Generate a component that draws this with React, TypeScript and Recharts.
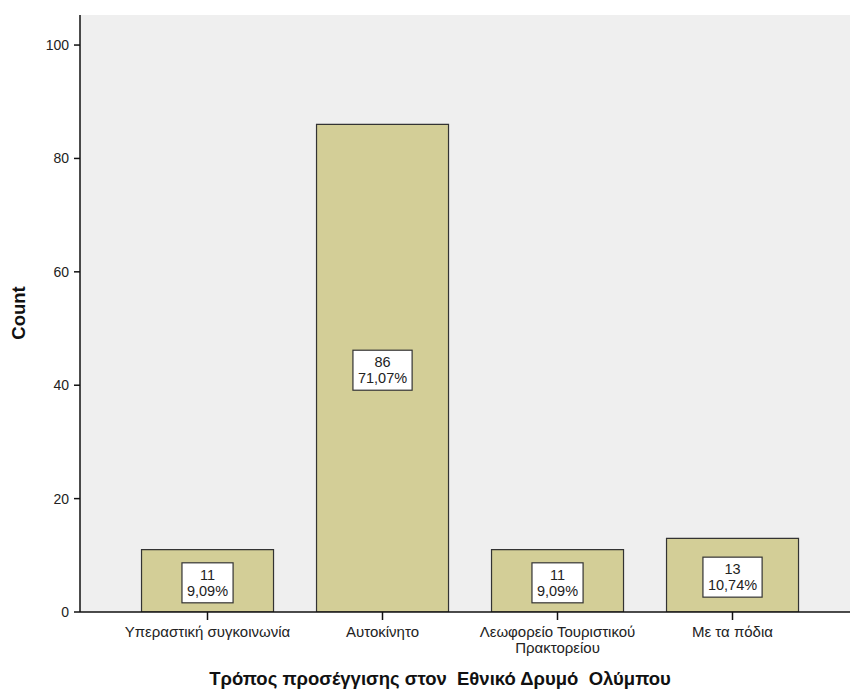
import {
  BarChart,
  Bar,
  XAxis,
  YAxis,
  CartesianGrid,
  LabelList,
  Text,
} from "recharts";

const categories = [
  "Υπεραστική συγκοινωνία",
  "Αυτοκίνητο",
  "Λεωφορείο Τουριστικού Πρακτορείου",
  "Με τα πόδια",
];
const counts = [11, 86, 11, 13];
const yTicks = [0, 20, 40, 60, 80, 100];
const xTitle = "Τρόπος προσέγγισης στον  Εθνικό Δρυμό  Ολύμπου";
const yTitle = "Count";

const total = counts.reduce((a, b) => a + b, 0);
const data = categories.map((name, i) => ({ name, count: counts[i] }));

const FONT = "'Liberation Sans', Arial, sans-serif";

function pct(v: number) {
  return ((v / total) * 100).toFixed(2).replace(".", ",") + "%";
}

// rough Arial width of digits / comma / percent text
function textWidth(s: string, size: number) {
  let w = 0;
  for (const ch of s) {
    if (ch === ",") w += 0.278;
    else if (ch === "%") w += 0.889;
    else w += 0.556;
  }
  return w * size;
}

function CategoryTick(props: any) {
  const { x, y, payload } = props;
  return (
    <Text
      x={x}
      y={y}
      width={182}
      textAnchor="middle"
      verticalAnchor="start"
      fontSize={15}
      fill="#222"
      fontFamily={FONT}
      lineHeight={16}
    >
      {payload.value}
    </Text>
  );
}

function CountLabel(props: any) {
  const { x, y, width, height, value } = props;
  const cx = x + width / 2;
  const cy = y + height / 2 + 2;
  const p = pct(value);
  const w = textWidth(p, 14.5) + 10;
  return (
    <g>
      <rect
        x={cx - w / 2}
        y={cy - 20}
        width={w}
        height={40}
        fill="#fff"
        stroke="#333"
        strokeWidth={1.2}
      />
      <text x={cx} y={cy - 3} textAnchor="middle" fontSize={14.5} fill="#222" fontFamily={FONT}>
        {value}
      </text>
      <text x={cx} y={cy + 13} textAnchor="middle" fontSize={14.5} fill="#222" fontFamily={FONT}>
        {p}
      </text>
    </g>
  );
}

export default function App() {
  return (
    <div
      style={{
        position: "absolute",
        left: 0,
        top: 0,
        width: 850,
        height: 691,
        overflow: "hidden",
        background: "#fff",
        fontFamily: FONT,
      }}
    >
      <BarChart
        width={890}
        height={691}
        data={data}
        margin={{ top: 15, right: 30, bottom: 0, left: 0 }}
        barCategoryGap="12.3%"
      >
        <CartesianGrid fill="#EFEFEF" horizontal={false} vertical={false} />
        <XAxis
          xAxisId="top"
          orientation="top"
          dataKey="name"
          height={0}
          tick={false}
          tickLine={false}
          axisLine={{ stroke: "#888", strokeWidth: 3 }}
        />
        <XAxis
          dataKey="name"
          height={79}
          padding={{ left: 40, right: 40 }}
          axisLine={{ stroke: "#111", strokeWidth: 1.5 }}
          tickLine={{ stroke: "#111", strokeWidth: 1.5 }}
          tickSize={8}
          tickMargin={6}
          interval={0}
          tick={<CategoryTick />}
          label={{
            content: () => (
              <text
                x={440}
                y={685}
                textAnchor="middle"
                fontSize={18.5}
                fontWeight="bold"
                fill="#111"
                fontFamily={FONT}
                xmlSpace="preserve"
                style={{ whiteSpace: "pre" }}
              >
                {xTitle}
              </text>
            ),
          }}
        />
        <YAxis
          width={80}
          domain={[0, 105.3]}
          ticks={yTicks}
          allowDataOverflow
          axisLine={{ stroke: "#111", strokeWidth: 1.5 }}
          tickLine={{ stroke: "#111", strokeWidth: 1.5 }}
          tickSize={6}
          tickMargin={5}
          tick={{ fontSize: 14, fill: "#222", fontFamily: FONT }}
          label={{
            content: () => (
              <text
                x={25}
                y={313}
                transform="rotate(-90 25 313)"
                textAnchor="middle"
                fontSize={18.5}
                fontWeight="bold"
                fill="#111"
                fontFamily={FONT}
              >
                {yTitle}
              </text>
            ),
          }}
        />
        <Bar
          dataKey="count"
          fill="#D3CE97"
          stroke="#333"
          strokeWidth={1.2}
          isAnimationActive={false}
        >
          <LabelList dataKey="count" content={<CountLabel />} />
        </Bar>
      </BarChart>
    </div>
  );
}
